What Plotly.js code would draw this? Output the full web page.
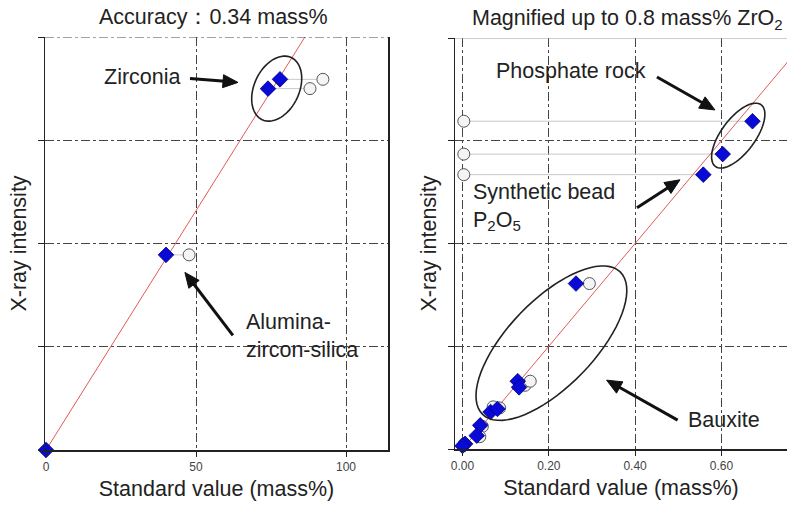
<!DOCTYPE html>
<html>
<head>
<meta charset="utf-8">
<script src="https://cdn.plot.ly/plotly-3.0.1.min.js"></script>
<style>html,body{margin:0;padding:0;background:#fff;}#chart{width:787px;height:506px;}</style>
</head>
<body>
<div id="chart"></div>
<script>
// ---- Left panel data (ZrO2 full range) ----
const leftCorrectedX = [0, 40, 74, 78];
const leftCorrectedY = [0, 1.89, 3.50, 3.59];
const leftUncorrectedX = [47.7, 88, 92.3];
const leftUncorrectedY = [1.89, 3.50, 3.59];
const leftPairIndex = [1, 2, 3];
const leftFitX = [0, 86.3];
const leftFitY = [0, 4];
const leftTickVals = [0, 50, 100];
const leftTickText = ['0', '50', '100'];

// ---- Right panel data (magnified up to 0.8 mass% ZrO2) ----
const rightCorrectedX = [0.672, 0.603, 0.558, 0.263, 0.128, 0.131, 0.065, 0.081, 0.041, 0.033, 0.006, 0.0];
const rightCorrectedY = [3.19, 2.87, 2.67, 1.61, 0.66, 0.60, 0.36, 0.39, 0.23, 0.13, 0.05, 0.03];
const rightUncorrectedX = [0.003, 0.003, 0.003, 0.294, 0.145, 0.157, 0.071, 0.086, 0.046, 0.040, 0.004];
const rightUncorrectedY = [3.19, 2.87, 2.67, 1.61, 0.62, 0.66, 0.41, 0.40, 0.22, 0.12, 0.05];
const rightPairIndex = [0, 1, 2, 3, 4, 5, 6, 7, 8, 9, 10];
const rightFitX = [0, 0.8];
const rightFitY = [0, 4];
const rightTickVals = [0, 0.2, 0.4, 0.6];
const rightTickText = ['0.00', '0.20', '0.40', '0.60'];

const W = 787, H = 506;
const FONT = 'Liberation Sans, Arial, sans-serif';
const xDom1 = [45 / W, 388 / W], yDom1 = [56 / H, 469 / H];
const xDom2 = [455 / W, 1], yDom2 = [57 / H, 468 / H];
const xRange1 = [-0.333, 114], yRange1 = [0, 4];
const xRange2 = [-0.0174, 0.752], yRange2 = [0, 4];

function pxPer(dom, range, size) { return (dom[1] - dom[0]) * size / (range[1] - range[0]); }

function connectors(cx, cy, dx, pairs) {
  const xs = [], ys = [];
  cx.forEach((x, i) => { xs.push(dx[pairs[i]], x, null); ys.push(cy[i], cy[i], null); });
  return { xs, ys };
}

function ellipsePath(cx, cy, aPx, bPx, angDeg, sx, sy) {
  const th = angDeg * Math.PI / 180; let d = '';
  for (let k = 0; k <= 72; k++) {
    const t = 2 * Math.PI * k / 72;
    const dx = aPx * Math.cos(t) * Math.cos(th) - bPx * Math.sin(t) * Math.sin(th);
    const dy = aPx * Math.cos(t) * Math.sin(th) + bPx * Math.sin(t) * Math.cos(th);
    d += (k === 0 ? 'M ' : ' L ') + (cx + dx / sx) + ',' + (cy + dy / sy);
  }
  return d + ' Z';
}

// arrow made of a line and a filled head; head in data coords, tail offset in pixels (right, down)
function arrowShapes(xref, yref, hx, hy, tdx, tdy, sx, sy) {
  const L = Math.hypot(tdx, tdy), ux = -tdx / L, uy = -tdy / L;
  const hl = 15, hw = 6.5;
  const bx = -ux * hl, by = -uy * hl;           // base offset from head (px)
  const px = -uy, py = ux;                       // perpendicular
  const toD = (ox, oy) => [hx + ox / sx, hy - oy / sy];
  const t = toD(tdx, tdy), b = toD(bx + ux * 2, by + uy * 2);
  const p1 = toD(bx + px * hw, by + py * hw), p2 = toD(bx - px * hw, by - py * hw);
  return [
    { type: 'line', xref, yref, x0: t[0], y0: t[1], x1: b[0], y1: b[1], line: { color: '#111', width: 3 } },
    { type: 'path', xref, yref, path: `M ${hx},${hy} L ${p1[0]},${p1[1]} L ${p2[0]},${p2[1]} Z`, fillcolor: '#111', line: { color: '#111', width: 1 } }
  ];
}

const sx1 = pxPer(xDom1, xRange1, W), sy1 = pxPer(yDom1, yRange1, H);
const sx2 = pxPer(xDom2, xRange2, W), sy2 = pxPer(yDom2, yRange2, H);

const c1 = connectors(leftUncorrectedX, leftUncorrectedY, leftCorrectedX, leftPairIndex);
const c2 = connectors(rightUncorrectedX, rightUncorrectedY, rightCorrectedX, rightPairIndex);

const diamond = { symbol: 'diamond', size: 12, color: '#0a0ad8', line: { color: '#00007a', width: 0.8 } };
const circle = { symbol: 'circle', size: 12, color: '#f4f4f4', line: { color: '#555', width: 1 } };

const traces = [
  { x: c1.xs, y: c1.ys, xaxis: 'x', yaxis: 'y', mode: 'lines', line: { color: '#c8c8c8', width: 1 }, hoverinfo: 'skip' },
  { x: leftFitX, y: leftFitY, xaxis: 'x', yaxis: 'y', mode: 'lines', line: { color: '#e05a5a', width: 1 } },
  { x: leftUncorrectedX, y: leftUncorrectedY, xaxis: 'x', yaxis: 'y', mode: 'markers', marker: circle, cliponaxis: false },
  { x: leftCorrectedX, y: leftCorrectedY, xaxis: 'x', yaxis: 'y', mode: 'markers', marker: diamond, cliponaxis: false },
  { x: c2.xs, y: c2.ys, xaxis: 'x2', yaxis: 'y2', mode: 'lines', line: { color: '#c8c8c8', width: 1 }, hoverinfo: 'skip' },
  { x: rightFitX, y: rightFitY, xaxis: 'x2', yaxis: 'y2', mode: 'lines', line: { color: '#e05a5a', width: 1 } },
  { x: rightUncorrectedX, y: rightUncorrectedY, xaxis: 'x2', yaxis: 'y2', mode: 'markers', marker: circle, cliponaxis: false },
  { x: rightCorrectedX, y: rightCorrectedY, xaxis: 'x2', yaxis: 'y2', mode: 'markers', marker: diamond, cliponaxis: false }
];

const axisCommon = {
  showgrid: true, gridcolor: '#444', gridwidth: 1, griddash: 'dashdot',
  showline: true, linecolor: '#222', linewidth: 1.5, zeroline: false,
  ticks: 'outside', ticklen: 5, tickcolor: '#222',
  tickfont: { family: FONT, size: 12, color: '#444' }
};
const titleFont = { family: FONT, size: 21.5, color: '#222' };

const layout = {
  width: W, height: H, margin: { l: 0, r: 0, t: 0, b: 0 },
  paper_bgcolor: '#fff', plot_bgcolor: '#fff', showlegend: false, font: { family: FONT },
  xaxis: Object.assign({}, axisCommon, { domain: xDom1, range: xRange1, anchor: 'y', tickvals: leftTickVals, ticktext: leftTickText,
    title: { text: 'Standard value (mass%)', font: titleFont, standoff: 8 } }),
  yaxis: Object.assign({}, axisCommon, { domain: yDom1, range: yRange1, anchor: 'x', dtick: 1, showticklabels: false, ticklen: 6, mirror: true,
    title: { text: 'X-ray intensity', font: titleFont, standoff: 5 } }),
  xaxis2: Object.assign({}, axisCommon, { domain: xDom2, range: xRange2, anchor: 'y2', tickvals: rightTickVals, ticktext: rightTickText,
    title: { text: 'Standard value (mass%)', font: titleFont, standoff: 8 } }),
  yaxis2: Object.assign({}, axisCommon, { domain: yDom2, range: yRange2, anchor: 'x2', dtick: 1, showticklabels: false, ticklen: 6,
    title: { text: 'X-ray intensity', font: titleFont, standoff: 5 } }),
  shapes: [
    { type: 'line', xref: 'x', yref: 'y', x0: xRange1[0], x1: xRange1[1], y0: 4, y1: 4, line: { color: '#444', width: 1, dash: 'dashdot' } },
    { type: 'line', xref: 'x2', yref: 'y2', x0: xRange2[0], x1: xRange2[1], y0: 4, y1: 4, line: { color: '#999', width: 1.2 } },
    { type: 'path', xref: 'x', yref: 'y', path: ellipsePath(76.9, 3.50, 34.3, 22.5, 65, sx1, sy1), line: { color: '#222', width: 1.6 } },
    { type: 'path', xref: 'x2', yref: 'y2', path: ellipsePath(0.639, 3.05, 38.4, 17, 53.4, sx2, sy2), line: { color: '#222', width: 1.6 } },
    { type: 'path', xref: 'x2', yref: 'y2', path: ellipsePath(0.206, 1.03, 99, 43, 46, sx2, sy2), line: { color: '#222', width: 1.6 } }
  ].concat(
    arrowShapes('x', 'y', 64, 3.56, -48, -4, sx1, sy1),
    arrowShapes('x', 'y', 46.3, 1.72, 48, 63, sx1, sy1),
    arrowShapes('x2', 'y2', 0.585, 3.30, -58, -33, sx2, sy2),
    arrowShapes('x2', 'y2', 0.504, 2.62, -43, 28, sx2, sy2),
    arrowShapes('x2', 'y2', 0.334, 0.67, 71, 40, sx2, sy2)
  ),
  annotations: [
    { xref: 'paper', yref: 'paper', x: 213 / W, y: (H - 17) / H, text: 'Accuracy：0.34 mass%', showarrow: false, font: titleFont, xanchor: 'center', yanchor: 'middle' },
    { xref: 'paper', yref: 'paper', x: 627 / W, y: (H - 19) / H, text: 'Magnified up to 0.8 mass% ZrO<sub>2</sub>', showarrow: false, font: titleFont, xanchor: 'center', yanchor: 'middle' },
    { xref: 'x', yref: 'y', x: 32.3, y: 3.61, text: 'Zirconia', showarrow: false, font: titleFont, xanchor: 'center', yanchor: 'middle' },
    { xref: 'x', yref: 'y', x: 66.0, y: 1.10, text: 'Alumina-<br>zircon-silica', showarrow: false, font: titleFont, xanchor: 'left', yanchor: 'middle', align: 'left' },
    { xref: 'x2', yref: 'y2', x: 0.251, y: 3.68, text: 'Phosphate rock', showarrow: false, font: titleFont, xanchor: 'center', yanchor: 'middle' },
    { xref: 'x2', yref: 'y2', x: 0.019, y: 2.36, text: 'Synthetic bead<br>P<sub>2</sub>O<sub>5</sub>', showarrow: false, font: titleFont, xanchor: 'left', yanchor: 'middle', align: 'left' },
    { xref: 'x2', yref: 'y2', x: 0.607, y: 0.28, text: 'Bauxite', showarrow: false, font: titleFont, xanchor: 'center', yanchor: 'middle' }
  ]
};

Plotly.newPlot('chart', traces, layout, { staticPlot: true, displayModeBar: false });
</script>
</body>
</html>
